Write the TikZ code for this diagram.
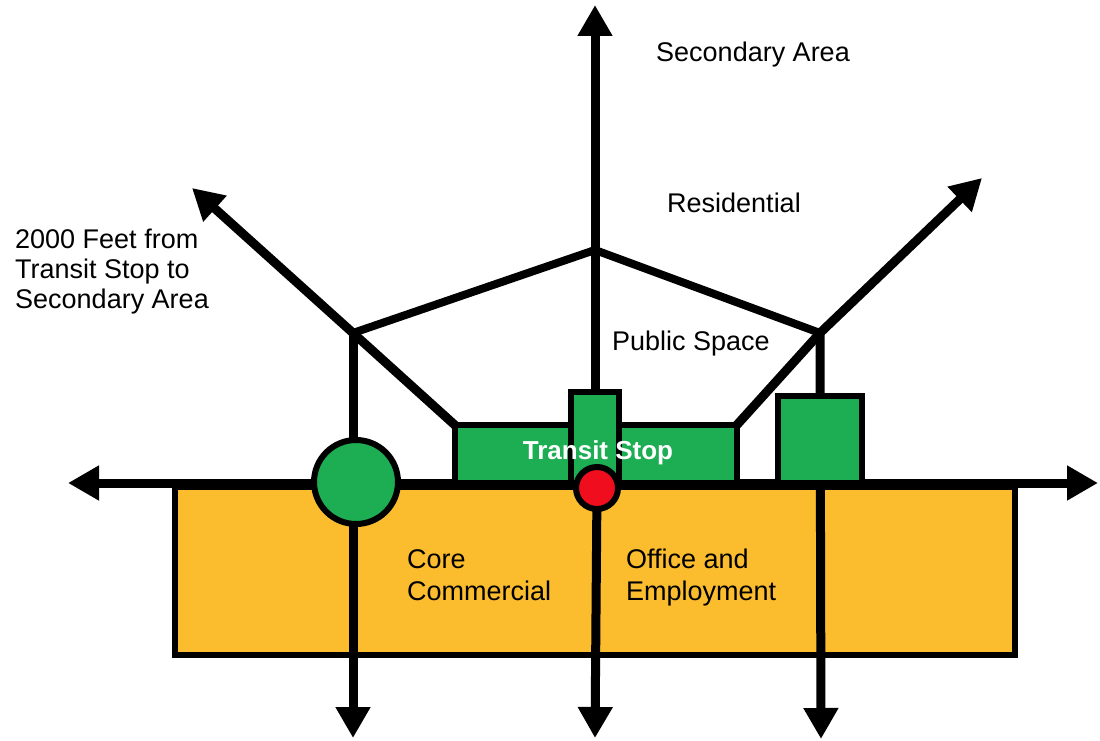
\documentclass[tikz,border=0pt]{standalone}
\usepackage{fontspec}
\setmainfont{Liberation Sans}
\usetikzlibrary{arrows.meta}
\definecolor{tgreen}{RGB}{29,173,82}
\definecolor{tyellow}{RGB}{251,189,46}
\definecolor{tred}{RGB}{240,14,30}
\pgfdeclarelayer{base}
\pgfdeclarelayer{lines}
\pgfsetlayers{base,lines,main}
\begin{document}
\begin{tikzpicture}[x=1pt,y=-1pt,
  tip/.tip={Triangle[length=31pt,width=33pt]},
  axis/.style={line width=9pt, -tip},
  street/.style={line width=9pt, tip-tip},
  link/.style={line width=8pt, line join=round},
  zone/.style={draw, line width=6pt, inner sep=0pt, rectangle},
  disc/.style={draw, line width=6pt, inner sep=0pt, circle},
  lbl/.style={font=\fontsize{27}{31}\selectfont, align=left, inner sep=0pt, anchor=base west},
]
\path[use as bounding box] (0,0) rectangle (1100,741);

% junctions and free arrow ends
\coordinate (L) at (353,333);
\coordinate (T) at (595,250);
\coordinate (R) at (820,333);
\coordinate (nTip) at (595,5);
\coordinate (nwTip) at (192,188);
\coordinate (neTip) at (982,178);
\coordinate (wTip) at (68,483);
\coordinate (eTip) at (1098,483);
\coordinate (sTipL) at (353,738);
\coordinate (sTipC) at (595,738);
\coordinate (sTipR) at (821,739);

% green boxes and circles
\node[zone, fill=tgreen, minimum width=282pt, minimum height=58pt] (ts) at (596,454) {};
\node[zone, fill=tgreen, minimum width=48pt, minimum height=91pt] (stub) at (595,437.5) {};
\node[zone, fill=tgreen, minimum width=84pt, minimum height=87pt] (rbox) at (820,439.5) {};
\node[font=\fontsize{26}{30}\selectfont\bfseries, text=white, inner sep=0pt, anchor=base] (tslbl) at (598,459) {Transit Stop};
\node[disc, fill=tgreen, minimum size=84pt] (hub) at (356,482) {};
\node[disc, fill=tred, minimum size=42pt] (stop) at (597,488) {};

\begin{pgfonlayer}{base}
\node[zone, fill=tyellow, minimum width=840pt, minimum height=168pt] (core) at (595,571) {};
\end{pgfonlayer}

\begin{pgfonlayer}{lines}
\draw[street] (wTip) -- (eTip);
\draw[link] (L) -- (T) -- (R);
\draw[axis] (stub.north) -- (nTip);
\draw[axis] (stop.center) -- (sTipC);
\draw[axis] (L) -- (sTipL);
\draw[axis] (R) -- (sTipR);
\draw[axis, line join=round] ([shift={(5,5)}]ts.north west) -- (L) -- (nwTip);
\draw[axis, line join=round] ([shift={(-5,5)}]ts.north east) -- (R) -- (neTip);
\end{pgfonlayer}

% labels
\node[lbl] (sec) at (656,62) {Secondary Area};
\node[lbl] (res) at (667,212) {Residential};
\node[lbl] (pub) at (612,350) {Public Space};
\node[lbl, font=\fontsize{27}{30}\selectfont] (dist) at (15,308) {2000 Feet from\\Transit Stop to\\Secondary Area};
\node[lbl, font=\fontsize{27}{32}\selectfont] (corel) at (407,600) {Core\\Commercial};
\node[lbl, font=\fontsize{27}{32}\selectfont] (office) at (626,600) {Office and\\Employment};
\end{tikzpicture}
\end{document}
